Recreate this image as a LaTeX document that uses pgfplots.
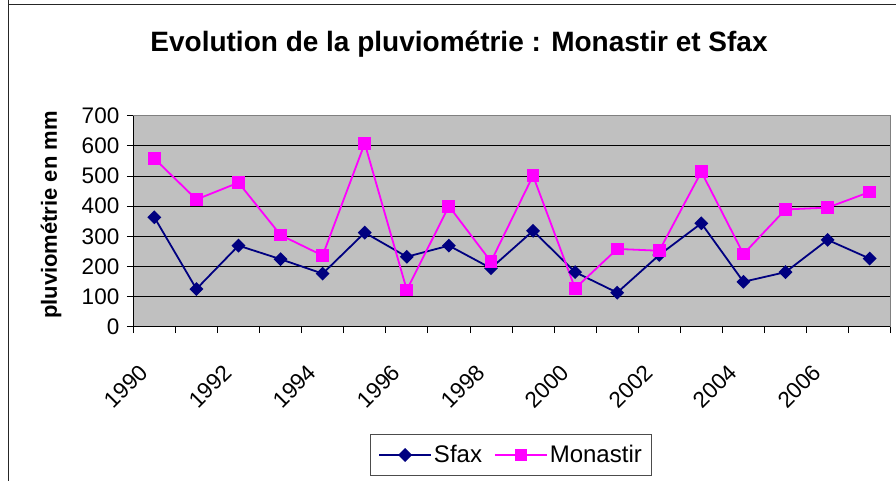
\documentclass[border=0pt]{standalone}
\usepackage{pgfplots}
\pgfplotsset{compat=1.18}
\usepackage{fontspec}
\setmainfont{Liberation Sans}
\definecolor{plotgray}{RGB}{192,192,192}
\definecolor{sfax}{RGB}{0,0,128}
\definecolor{mona}{RGB}{255,0,255}
\begin{document}
\begin{tikzpicture}[x=1pt,y=1pt]
\useasboundingbox (0,0) rectangle (896,481);
\draw[line width=1pt, black!85] (8,481) -- (8,476) -- (896,476);
\draw[line width=1pt, black!85] (8,476) -- (8,0);
\node[font=\bfseries\fontsize{28}{28}\selectfont, anchor=base] at (459,429.3) {Evolution de la pluviométrie : Monastir et Sfax};
\begin{axis}[
  at={(133.3pt,154.3pt)}, anchor=south west,
  scale only axis, width=757.4pt, height=211pt,
  xmin=1989.5, xmax=2007.5, ymin=0, ymax=700,
  axis x line*=bottom, axis y line*=left,
  axis line style={line width=1pt, black, -},
  axis background/.style={fill=plotgray},
  xtick={1989.5,1990.5,...,2007.5},
  xticklabels={1990,,1992,,1994,,1996,,1998,,2000,,2002,,2004,,2006,,,},
  ytick={0,100,...,700},
  tick align=outside,
  major tick length=6.5pt,
  tick style={black, line width=0.8pt},
  ymajorgrids,
  major grid style={black, line width=0.8pt},
  /pgf/number format/assume math mode=true,
  /pgf/number format/1000 sep={},
  tick label style={font=\fontsize{22.5}{24}\selectfont},
  xticklabel style={xshift=13pt, yshift=-33pt, rotate=45, anchor=east},
  yticklabel style={xshift=-4pt},
  ylabel={},
  legend style={at={(0.4987,-0.608)}, anchor=center, legend columns=2,
    draw=black!70, line width=0.8pt, font=\fontsize{24}{24}\selectfont,
    inner xsep=8pt, inner ysep=9pt,
    /tikz/every even column/.append style={column sep=10pt}},
  legend image code/.code={\draw[#1, mark repeat=2, mark phase=2] plot coordinates {(0pt,0pt) (26pt,0pt) (52pt,0pt)};},
  after end axis/.code={\draw[black!50, line width=1pt] (rel axis cs:0,1) -- (rel axis cs:1,1) -- (rel axis cs:1,0);},
]
\addplot[sfax, line width=1.8pt, mark=square*, mark size=4pt, mark options={rotate=45, solid}] coordinates {
(1990,363) (1991,125) (1992,269) (1993,224) (1994,176) (1995,312) (1996,232) (1997,269) (1998,194)
(1999,318) (2000,181) (2001,113) (2002,238) (2003,343) (2004,149) (2005,181) (2006,288) (2007,226)};
\addlegendentry{Sfax}
\addplot[mona, line width=1.8pt, mark=square*, mark size=5.5pt, mark options={solid}] coordinates {
(1990,558) (1991,422) (1992,478) (1993,304) (1994,236) (1995,608) (1996,122) (1997,400) (1998,216)
(1999,501) (2000,127) (2001,258) (2002,252) (2003,514) (2004,241) (2005,389) (2006,395) (2007,447)};
\addlegendentry{Monastir}
\end{axis}
\node[font=\bfseries\fontsize{22}{22}\selectfont, rotate=90, anchor=center] at (51,266) {pluviométrie en mm};
\end{tikzpicture}
\end{document}
